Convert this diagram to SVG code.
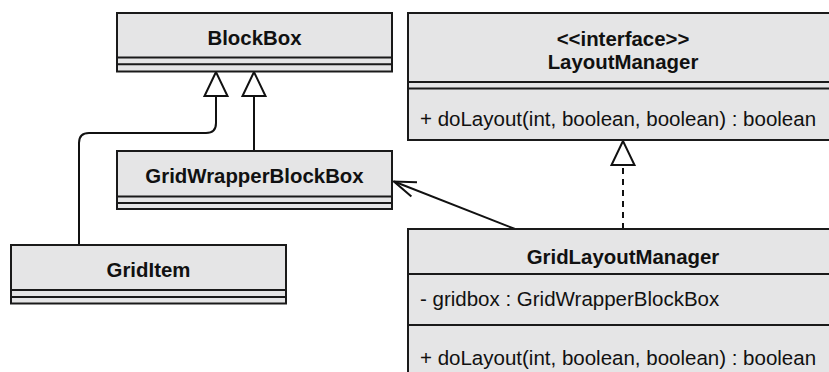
<svg xmlns="http://www.w3.org/2000/svg" width="829" height="372" viewBox="0 0 829 372">
<style>
.box{fill:#e5e5e6;stroke:#1a1a1a;stroke-width:2}
.sep{stroke:#1a1a1a;stroke-width:2;fill:none}
.t{font-family:"Liberation Sans",Arial,sans-serif;font-size:20.5px;fill:#111}
.b{font-weight:bold;text-anchor:middle;font-size:20.4px}
.edge{fill:none;stroke:#111;stroke-width:2}
.tri{fill:#fff;stroke:#111;stroke-width:2;stroke-linejoin:miter}
</style>
<rect width="829" height="372" fill="#fff"/>
<g id="edges">
  <path class="edge" d="M79,245 V143 Q79,133 89,133 H206 Q216,133 216,123 V96"/>
  <polygon class="tri" points="216,72 204.5,96 227.5,96"/>
  <path class="edge" d="M254,150 V96"/>
  <polygon class="tri" points="254,72 242.5,96 265.5,96"/>
  <path class="edge" d="M515,229 L394,181.5"/>
  <path class="edge" d="M417,182.3 L394,181.5 L411.4,196.4"/>
  <path class="edge" d="M623,229 V165" stroke-dasharray="6,5"/>
  <polygon class="tri" points="623,141 611.5,165 634.5,165"/>
</g>
<g id="BlockBox">
  <rect class="box" x="117" y="13" width="275" height="58.5"/>
  <path class="sep" d="M117,57.5 H392 M117,64.3 H392"/>
  <text class="t b" x="254.5" y="45">BlockBox</text>
</g>
<g id="GridWrapperBlockBox">
  <rect class="box" x="117" y="151" width="275" height="58"/>
  <path class="sep" d="M117,196.5 H392 M117,203 H392"/>
  <text class="t b" x="254.5" y="183">GridWrapperBlockBox</text>
</g>
<g id="GridItem">
  <rect class="box" x="11" y="245" width="275" height="58.5"/>
  <path class="sep" d="M11,290 H286 M11,297 H286"/>
  <text class="t b" x="148.5" y="277">GridItem</text>
</g>
<g id="LayoutManager">
  <rect class="box" x="408" y="13" width="432" height="127"/>
  <path class="sep" d="M408,82 H840 M408,88.5 H840"/>
  <text class="t b" x="623" y="46">&lt;&lt;interface&gt;&gt;</text>
  <text class="t b" x="623" y="69">LayoutManager</text>
  <text class="t" x="420" y="126">+ doLayout(int, boolean, boolean) : boolean</text>
</g>
<g id="GridLayoutManager">
  <rect class="box" x="408" y="229" width="432" height="160"/>
  <path class="sep" d="M408,274 H840 M408,325 H840"/>
  <text class="t b" x="623" y="264">GridLayoutManager</text>
  <text class="t" x="420" y="306">- gridbox : GridWrapperBlockBox</text>
  <text class="t" x="420" y="365">+ doLayout(int, boolean, boolean) : boolean</text>
</g>
</svg>
